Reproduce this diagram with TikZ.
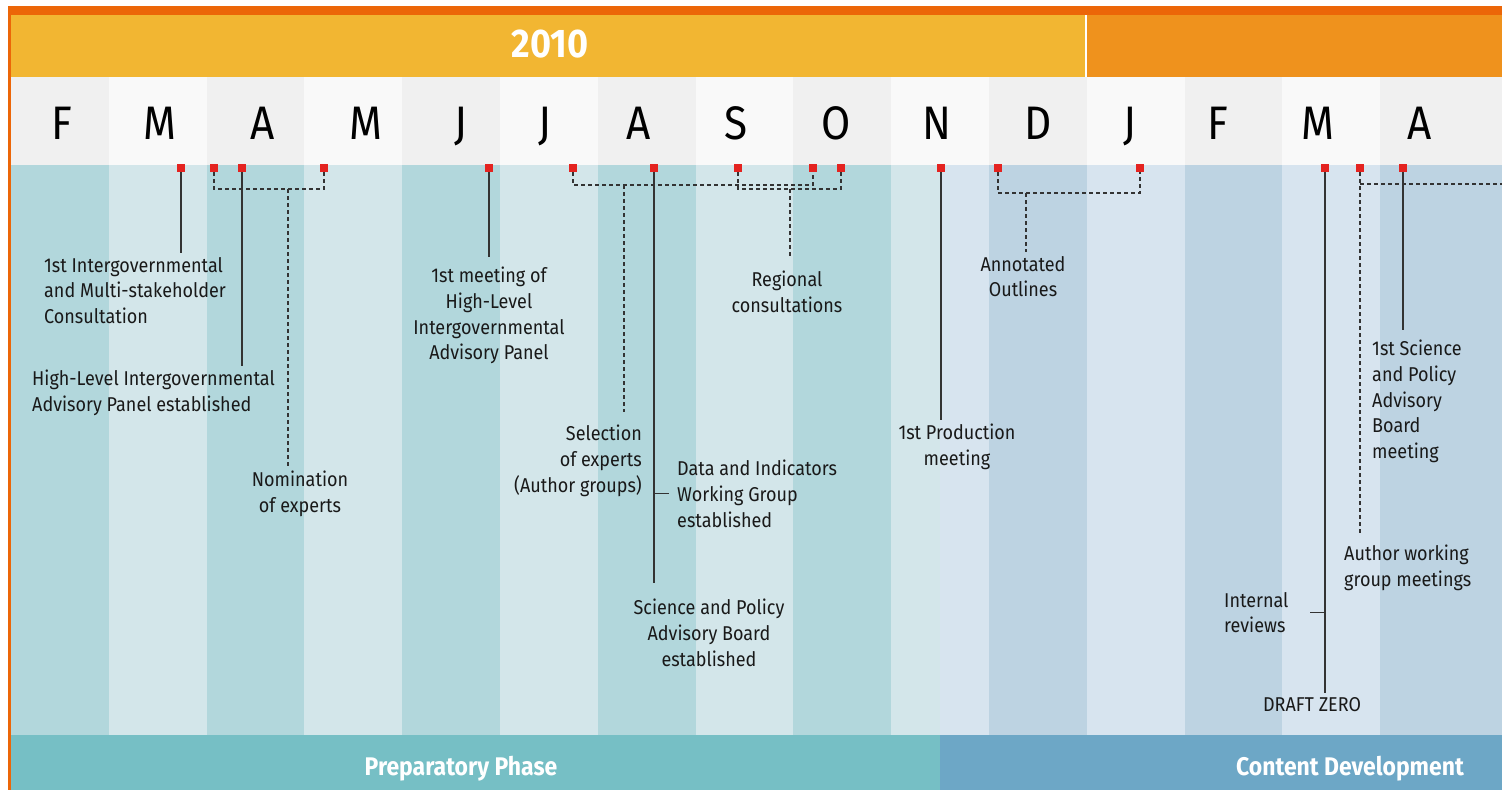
\documentclass[tikz,border=0pt]{standalone}
\usepackage{fontspec}
\setmainfont{Fira Sans}[FakeStretch=0.9]

\definecolor{topOrange}{HTML}{EC6608}
\definecolor{yearYellow}{HTML}{F2B632}
\definecolor{yearOrange}{HTML}{EF921D}
\definecolor{monthDark}{HTML}{F0F0F0}
\definecolor{monthLight}{HTML}{F9F9F9}
\definecolor{tealDark}{HTML}{B2D7DC}
\definecolor{tealLight}{HTML}{D3E6EA}
\definecolor{blueDark}{HTML}{BDD3E2}
\definecolor{blueLight}{HTML}{D7E4EF}
\definecolor{phaseTeal}{HTML}{76BFC5}
\definecolor{phaseBlue}{HTML}{6DA7C6}
\definecolor{markRed}{HTML}{E42320}
\definecolor{lineGray}{HTML}{333333}

\tikzset{
  marker/.style={fill=markRed, minimum size=8pt, inner sep=0pt},
  stem/.style={draw=lineGray, line width=1.2pt},
  bracket/.style={draw=lineGray, line width=1.2pt, dash pattern=on 4pt off 3pt},
  event/.style={font=\fontsize{20}{25.7}\selectfont, inner xsep=0pt, inner ysep=4pt, text=black!90},
  month/.style={font=\fontsize{47}{47}\selectfont, anchor=base, inner sep=0pt},
  phase/.style={font=\bfseries\fontsize{25.5}{25.5}\selectfont, text=white, anchor=base, inner sep=0pt}
}

\begin{document}
\begin{tikzpicture}[x=1pt, y=-1pt]
    \useasboundingbox (0,0) rectangle (1502,790);
    \fill[white] (0,0) rectangle (1502,790);

    % Orange frame
    \fill[topOrange] (8,6) rectangle (1502,15);
    \fill[topOrange] (8,6) rectangle (11,790);

    % Year bar
    \fill[yearYellow] (11,15) rectangle (1085,77);
    \fill[yearOrange] (1087,15) rectangle (1502,77);
    \node[font=\bfseries\fontsize{40}{40}\selectfont, text=white, anchor=base, inner sep=0pt] (year) at (550,57) {2010};

    % Month row
    \fill[monthLight] (11,77) rectangle (1502,165);
    \foreach \i in {0,2,...,12}
        \fill[monthDark] ({11+97.8*\i},77) rectangle ({11+97.8*(\i+1)},165);
    \fill[monthDark] (1380,77) rectangle (1502,165);
    \foreach \m/\x [count=\k] in {F/62, M/160, A/263, M/366, J/461, J/545, A/639, S/736,
                                  O/836, N/937, D/1038, J/1130, F/1218, M/1318, A/1420}
        \node[month] (month\k) at (\x,139) {\m};

    % Body columns (teal, then blue)
    \fill[tealLight] (11,165) rectangle (940,735);
    \foreach \i in {0,2,...,8}
        \fill[tealDark] ({11+97.8*\i},165) rectangle ({11+97.8*(\i+1)},735);
    \fill[blueLight] (940,165) rectangle (1502,735);
    \fill[blueDark] (989,165) rectangle (1086.8,735);
    \fill[blueDark] (1184.6,165) rectangle (1282.4,735);
    \fill[blueDark] (1380.2,165) rectangle (1502,735);

    % Phases
    \fill[phaseTeal] (11,735) rectangle (940,790);
    \fill[phaseBlue] (940,735) rectangle (1502,790);
    \node[phase] (prep) at (461,775) {Preparatory Phase};
    \node[phase] (content) at (1350,775) {Content Development};

    % Markers
    \node[marker] (mCons)  at (181,168) {};
    \node[marker] (mNomA)  at (214,168) {};
    \node[marker] (mHLP)   at (242,168) {};
    \node[marker] (mNomB)  at (324,168) {};
    \node[marker] (mMeet)  at (489,168) {};
    \node[marker] (mSelA)  at (573,168) {};
    \node[marker] (mSPAB)  at (654,168) {};
    \node[marker] (mRegA)  at (738,168) {};
    \node[marker] (mSelB)  at (813,168) {};
    \node[marker] (mRegB)  at (841,168) {};
    \node[marker] (mProd)  at (941,168) {};
    \node[marker] (mAnnA)  at (998,168) {};
    \node[marker] (mAnnB)  at (1140,168) {};
    \node[marker] (mDraft) at (1325,168) {};
    \node[marker] (mAuth)  at (1360,168) {};
    \node[marker] (mSci)   at (1403,168) {};

    % Event labels
    \node[event, anchor=north west, align=left] (lCons) at (44,253)
        {1st Intergovernmental\\and Multi-stakeholder\\Consultation};
    \node[event, anchor=north west, align=left] (lHLP) at (32,366)
        {High-Level Intergovernmental\\Advisory Panel established};
    \node[event, anchor=north, align=center] (lNom) at (300,467) {Nomination\\of experts};
    \node[event, anchor=north, align=center] (lMeet) at (489,263)
        {1st meeting of\\High-Level\\Intergovernmental\\Advisory Panel};
    \node[event, anchor=north, align=center] (lReg) at (787,267) {Regional\\consultations};
    \node[event, anchor=north east, align=right] (lSel) at (642,421)
        {Selection\\of experts\\(Author groups)};
    \node[event, anchor=north west, align=left] (lData) at (677,456)
        {Data and Indicators\\Working Group\\established};
    \node[event, anchor=north, align=center] (lSPAB) at (709,595)
        {Science and Policy\\Advisory Board\\established};
    \node[event, anchor=north, align=center] (lProd) at (957,420) {1st Production\\meeting};
    \node[event, anchor=north, align=center] (lAnn) at (1023,252) {Annotated\\Outlines};
    \node[event, anchor=north west, align=left] (lSci) at (1372,336)
        {1st Science\\and Policy\\Advisory\\Board\\meeting};
    \node[event, anchor=north west, align=left] (lAuth) at (1344,541)
        {Author working\\group meetings};
    \node[event, anchor=north west, align=left] (lInt) at (1224,588) {Internal\\reviews};
    \node[event, anchor=north, align=center] (lDraft) at (1312,693) {DRAFT ZERO};

    % Single events
    \draw[stem] (mCons.south) -- (mCons |- lCons.north);
    \draw[stem] (mHLP.south) -- (mHLP |- lHLP.north);
    \draw[stem, shorten >=6pt] (mMeet.south) -- (mMeet |- lMeet.north);
    \draw[stem, shorten >=12pt] (mSPAB.south) -- (mSPAB |- lSPAB.north);
    \draw[stem] (mSPAB |- lData.west) -- ++(15,0);
    \draw[stem] (mProd.south) -- (mProd |- lProd.north);
    \draw[stem, shorten >=6pt] (mSci.south) -- (mSci |- lSci.north);
    \draw[stem] (mDraft.south) -- (mDraft |- lDraft.north);
    \draw[stem] (mDraft |- lInt.east) -- ++(-15,0);

    % Periods (dashed brackets)
    \coordinate (jNom) at (288,189);
    \draw[bracket] (mNomA.south) |- (jNom) -| (mNomB.south);
    \draw[bracket] (jNom) -- (jNom |- lNom.north);

    \coordinate (jSel) at (624,185);
    \draw[bracket] (mSelA.south) |- (jSel) -| (mSelB.south);
    \draw[bracket, shorten >=9pt] (jSel) -- (jSel |- lSel.north);

    \coordinate (jReg) at (790,189);
    \draw[bracket] (mRegA.south) |- (jReg) -| (mRegB.south);
    \draw[bracket, shorten >=9pt] (jReg) -- (jReg |- lReg.north);

    \coordinate (jAnn) at (1026,193);
    \draw[bracket] (mAnnA.south) |- (jAnn) -| (mAnnB.south);
    \draw[bracket] (jAnn) -- (jAnn |- lAnn.north);

    \coordinate (authEnd) at (1502,184);
    \draw[bracket, shorten >=8pt] (mAuth.south) -- (mAuth |- lAuth.north);
    \draw[bracket] (mAuth |- authEnd) -- (authEnd);
\end{tikzpicture}
\end{document}
